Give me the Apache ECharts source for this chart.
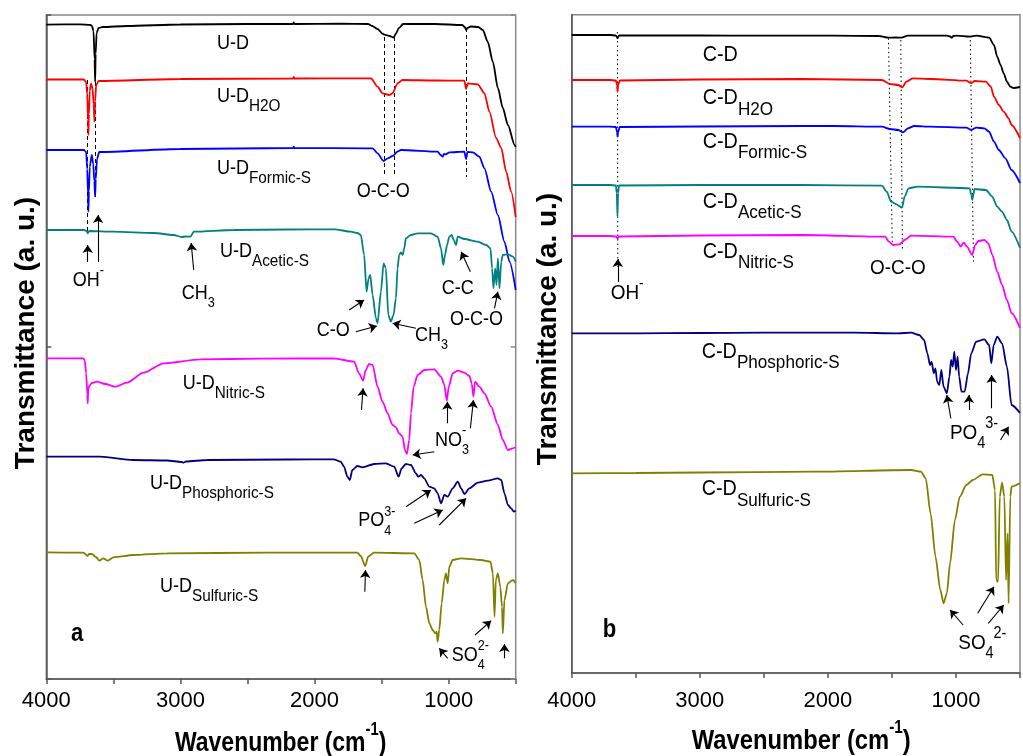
<!DOCTYPE html>
<html><head><meta charset="utf-8">
<script src="https://cdn.jsdelivr.net/npm/echarts@6/dist/echarts.min.js"></script>
<style>html,body{margin:0;padding:0;background:#fff}#c{width:1023px;height:756px}</style>
</head><body><div id="c"></div>
<script>
// ---- Panel a: U-D spectra, [wavenumber cm-1, transmittance a.u. (stacked offset)] ----
const udPlain = [[4000,654.3],[3750,654.7],[3670,654],[3660,653],[3648,648],[3640,620],[3636,597],[3632,625],[3625,646],[3610,651],[3580,652],[3400,653],[3000,654.5],[2500,655],[2160,655],[2155,656.5],[2150,655],[1800,655.3],[1600,655],[1570,653],[1530,650],[1490,645],[1470,644],[1440,643],[1410,641.5],[1395,645],[1370,651],[1340,655],[1100,655],[900,654],[880,652],[870,649],[860,651],[835,652.5],[780,652],[745,649],[708,637],[670,617],[633,591],[596,571],[558,554],[508,534],[500,532]];
const udH2O = [[4000,599.5],[3720,599.5],[3703,597],[3695,585],[3689,560],[3686,544],[3682,565],[3676,588],[3666,595.7],[3655,590],[3647,575],[3641,557.3],[3636,578],[3628,594],[3610,598],[3000,600],[2160,600.5],[2155,602],[2150,600.5],[1600,600.7],[1578,600.5],[1530,592.3],[1493,585.7],[1443,584],[1418,585.7],[1381,595.7],[1343,599],[1100,598.5],[883,598.3],[870,590],[857,595.7],[783,594.7],[733,585.7],[696,567.3],[646,541],[608,531],[571,507.3],[534,487.3],[500,462]];
const udFormic = [[4000,529],[3720,529],[3703,527],[3695,510],[3689,485],[3686,467.3],[3682,488],[3676,512],[3661,524],[3650,515],[3642,498],[3636,482.3],[3631,500],[3622,520],[3605,527],[3000,530],[2160,531],[2155,532.3],[2150,531],[1600,530.7],[1567,530.7],[1530,525.7],[1485,518],[1455,520.7],[1418,523],[1381,527.3],[1356,529],[1082,527.3],[1060,524],[1044,522.3],[1035,525],[1020,524.7],[995,526.7],[883,527.3],[870,520],[860,527],[820,526.7],[771,522.3],[733,510.7],[683,487.3],[633,464],[584,437.3],[546,417.3],[500,389]];
const udAcetic = [[4000,449],[3720,449],[3700,448],[3691,445.7],[3680,448],[3500,447.3],[3200,446],[3050,444],[2990,442],[2960,442.5],[2925,442.3],[2900,447.3],[2600,449],[2200,449.5],[1850,449.7],[1730,447.3],[1680,446],[1655,444],[1630,424],[1612,387.3],[1597,400.7],[1585,404],[1567,384],[1542,360.7],[1530,355.7],[1505,387.3],[1485,415.7],[1468,410.7],[1450,364],[1431,357.3],[1411,364],[1393,380.7],[1381,410.7],[1369,424],[1356,426.7],[1343,424],[1331,430.7],[1319,440.7],[1281,444],[1231,445.7],[1132,445.7],[1082,442.3],[1057,430.7],[1040,414],[1027,424],[1012,434],[995,442.3],[977,444],[962,439],[945,434],[932,442.3],[883,440],[783,437.3],[720,434],[688,430.7],[676,410.7],[666,390.7],[653,410.7],[643,394],[633,420.7],[621,390.7],[608,417.3],[596,424],[558,424.7],[521,422.3],[500,417.3]];
const udNitric = [[4000,320.7],[3723,320.7],[3712,318],[3703,305.7],[3694,285],[3691,275.7],[3687,290],[3680,293],[3660,296],[3623,297.3],[3560,295],[3486,292.3],[3399,296.3],[3275,306.3],[3125,315.7],[2851,319.7],[2400,320.3],[1857,320.7],[1705,317.3],[1668,305.7],[1638,298.3],[1618,309],[1593,315],[1567,314],[1530,292.3],[1493,277.3],[1455,265.7],[1418,254],[1393,251.7],[1369,245.7],[1343,242.3],[1326,229],[1311,225],[1294,239],[1281,265.7],[1261,292.3],[1231,304],[1182,309],[1107,309.7],[1057,302.3],[1032,294],[1014,278.3],[999,292.3],[970,305.7],[932,308.3],[883,306.3],[845,303],[828,295.7],[815,282.3],[803,297.3],[771,292.3],[733,285.7],[683,272.3],[633,254],[596,239],[558,229],[521,230.7],[500,231.7]];
const udPhosphoric = [[4000,222.3],[3600,222.3],[3350,219],[3100,218.5],[2990,217],[2976,216.3],[2960,217.5],[2800,219],[2200,219.5],[1857,219.7],[1805,217.3],[1780,212.3],[1755,202.3],[1737,199],[1718,209],[1680,213],[1643,211.7],[1555,215],[1468,215.7],[1406,212.3],[1373,202.3],[1351,210.7],[1319,215],[1281,214],[1244,205.7],[1226,202.3],[1206,204],[1182,200.7],[1144,192.3],[1107,190.7],[1082,185.7],[1057,175.7],[1032,184],[1007,182.3],[970,190.7],[932,197.3],[907,190.7],[883,185],[845,190.7],[783,196.3],[708,198.3],[633,200.7],[608,199],[584,185.7],[558,174],[534,170.7],[514,167.3],[500,168.3]];
const udSulfuric = [[4000,126.7],[3723,126.3],[3705,124.5],[3693,123],[3680,125],[3661,125],[3630,122],[3604,118.3],[3574,120.7],[3544,118.3],[3499,121.7],[3350,124],[3100,125.7],[2352,126.3],[1680,126.3],[1655,123],[1622,113],[1600,122.3],[1555,126.3],[1256,125.7],[1219,119],[1194,99],[1169,72.3],[1144,55.7],[1119,49],[1101,45.7],[1089,47.3],[1082,37.3],[1070,49],[1052,75.7],[1032,99],[1020,105.7],[1007,95.7],[995,112.3],[970,119],[907,120.7],[758,119],[688,117.3],[670,105.7],[658,62.3],[648,99],[633,105.7],[615,92.3],[602,72.3],[596,45.7],[584,79],[558,95.7],[521,99],[500,95.7]];

// ---- Panel b: C-D spectra ----
const cdPlain = [[4000,638],[3700,638],[3655,637.5],[3642,634.7],[3630,637.5],[3000,637.5],[2500,637.3],[1958,637.3],[1600,637],[1527,635.3],[1470,635.5],[1426,635.3],[1375,637.3],[1071,637.3],[1045,636.5],[1033,635.3],[1020,637],[995,637.3],[893,636.3],[842,637.3],[741,635.3],[703,628],[678,616.3],[652,608],[627,599.7],[602,591.3],[576,586.3],[550,585],[500,586]];
const cdH2O = [[4000,593],[3700,593],[3655,592.5],[3646,588],[3642,581.3],[3637,588],[3625,592.5],[3000,593.5],[2200,594],[1578,593],[1515,589],[1451,588],[1418,585.7],[1388,591.3],[1337,594.7],[1198,594],[919,592.3],[881,589.7],[855,592],[766,591.3],[728,586.3],[703,576.3],[665,568],[627,561.3],[589,554.7],[566,548],[500,535]];
const cdFormic = [[4000,546.3],[3700,546.3],[3655,546],[3646,541],[3642,536.3],[3637,541],[3625,546],[3000,546.5],[2200,547],[1958,547],[1578,546.3],[1515,544],[1451,543],[1413,540.7],[1375,544.7],[1325,547],[1198,546.3],[919,545.3],[881,543],[842,545.3],[779,544.7],[741,541.3],[703,531.3],[665,523],[614,514.7],[566,503],[500,490]];
const cdAcetic = [[4000,488],[3700,488],[3655,487.5],[3648,480],[3643,456.3],[3638,480],[3630,487.5],[3000,488],[2200,488],[1578,487.3],[1540,481.3],[1507,471.3],[1464,468.7],[1421,465.3],[1401,476.3],[1370,484.7],[1299,486.3],[893,484.7],[880,478],[873,473],[865,478],[855,484],[766,483],[716,476.3],[678,466.3],[640,461.3],[602,453],[566,441.3],[500,425]];
const cdNitric = [[4000,437],[3700,437],[3655,436.5],[3642,434.7],[3630,436.5],[3000,437.5],[2200,438],[1553,436.3],[1523,431.3],[1489,428],[1439,428.7],[1401,433],[1350,437.3],[1020,436.3],[990,431.3],[964,426.3],[939,430.3],[914,426.3],[873,418],[850,428],[825,432],[779,433],[747,429.7],[716,418],[678,401.3],[640,388],[602,373],[566,360],[500,345]];
const cdPhosphoric = [[4000,339.7],[3500,339.7],[3000,340],[2500,340.3],[1800,340.3],[1451,339.7],[1350,340.3],[1287,338],[1249,333],[1223,319.7],[1203,308],[1190,311.3],[1173,299.7],[1160,304.7],[1147,291.3],[1130,288],[1114,303],[1097,286.3],[1071,279.7],[1051,296.3],[1038,313],[1025,306.3],[1013,321.3],[1000,303],[987,316.3],[975,296.3],[957,281.3],[932,281.3],[906,299.7],[881,319.7],[842,331.3],[779,333.7],[741,328],[724,309.7],[705,328],[678,336.3],[640,329.7],[602,306.3],[566,268],[500,260]];
const cdSulfuric = [[4000,199.7],[3500,200],[3000,200.5],[2110,201.3],[1350,203],[1274,201.3],[1236,194.7],[1198,159.7],[1160,116.3],[1122,83],[1097,69.7],[1071,79.7],[1046,109.7],[1008,153],[970,176.3],[919,188],[868,193],[792,198.7],[716,198],[695,183],[686,93],[671,91.3],[658,176.3],[640,190.3],[622,176.3],[609,93],[597,139.7],[589,69.7],[576,176.3],[566,186.3],[500,190]];

// guide lines [w1, v1, w2, v2]
const guidesA = [[1481,642,1481,502],[1406,642,1406,504],[865,651,865,502],[3691,599,3691,447],[3636,597,3636,482]];
const guidesB = [[3643,641,3640,406],[1527,634.7,1497,428],[1431,633,1418,423],[888,633,863,411.3]];
// arrows [tail w, tail v, head w, head v]
const arrowsA = [[3691,417,3691,434],[3614,417,3614,464],[2901,409,2920,436],[1742,369,1630,379],[1692,347.3,1535,353],[1244,350.7,1418,355.7],[838,407.3,907,427.3],[658,370.7,633,387.3],[1650,269,1638,290.7],[1107,227.3,1268,224],[1010,255.7,1010,277.3],[838,250.7,815,279],[1318,172.3,1132,189],[1256,155.7,1044,169],[1070,154,870,180.7],[1625,87.3,1620,109],[1007,20.7,1070,30.7],[803,44,683,58.3],[584,20.7,584,35]];
const arrowsB = [[3640,391,3640,414],[1040,254.7,1071,278],[899,263,899,278],[721,264.7,721,298],[652,233,589,246.3],[944,48,1046,63],[830,59.7,703,86.3],[747,49.7,627,68]];

const xTicks = [1000, 2000, 3000, 4000];

const FONT = "Arial, 'Liberation Sans', sans-serif";
const cv = document.createElement('canvas').getContext('2d');
function measure(t, f) { cv.font = f; return cv.measureText(t).width; }
// label builder: parts [[text, kind]] kind: n | sub | sup | supS (sup stacked above preceding sub)
function lab(x, y, parts, size, subSize, sx, weight) {
  sx = sx || 0.9;
  const pre = weight ? weight + ' ' : '';
  const els = []; let cx = x, subX = x;
  for (const [t, k] of parts) {
    const fs = k === 'n' ? size : subSize;
    const dy = k === 'sub' ? size * 0.5 : (k === 'sup' || k === 'supS') ? -size * 0.45 : 0;
    const px = k === 'supS' ? subX : cx;
    const f = pre + fs + 'px ' + FONT;
    els.push({ type: 'text', x: px, y: y + dy, scaleX: sx, silent: true,
      style: { text: t, font: f, fill: '#000', verticalAlign: 'middle', align: 'left' } });
    const w = measure(t, f) * sx;
    if (k === 'sub') subX = px;
    cx = k === 'supS' ? Math.max(cx, px + w) : px + w;
  }
  return els;
}

const graphics = [].concat(
  lab(217, 43.3, [['U-D','n']], 20, 17),
  lab(217, 96.7, [['U-D','n'],['H2O','sub']], 20, 17),
  lab(217, 168, [['U-D','n'],['Formic-S','sub']], 20, 17),
  lab(220, 251.7, [['U-D','n'],['Acetic-S','sub']], 20, 17),
  lab(182.7, 383.3, [['U-D','n'],['Nitric-S','sub']], 20, 17),
  lab(150, 483, [['U-D','n'],['Phosphoric-S','sub']], 20, 17),
  lab(160, 586, [['U-D','n'],['Sulfuric-S','sub']], 20, 17),
  lab(72.7, 280, [['OH','n'],['-','sup']], 20, 14),
  lab(181.7, 293, [['CH','n'],['3','sub']], 20, 14),
  lab(316.7, 330, [['C-O','n']], 20, 14),
  lab(415, 335, [['CH','n'],['3','sub']], 20, 14),
  lab(441.7, 288.3, [['C-C','n']], 20, 14),
  lab(450, 319.3, [['O-C-O','n']], 20, 14),
  lab(356.7, 191.7, [['O-C-O','n']], 20, 14),
  lab(435, 440, [['NO','n'],['3','sub'],['-','supS']], 20, 14),
  lab(358.3, 520.7, [['PO','n'],['4','sub'],['3-','supS']], 20, 14),
  lab(451.7, 655, [['SO','n'],['4','sub'],['2-','supS']], 20, 14),
  lab(702.7, 55, [['C-D','n']], 22, 19),
  lab(702.7, 98.3, [['C-D','n'],['H2O','sub']], 22, 19),
  lab(702.7, 141.7, [['C-D','n'],['Formic-S','sub']], 22, 19),
  lab(702.7, 201.7, [['C-D','n'],['Acetic-S','sub']], 22, 19),
  lab(702.7, 251.7, [['C-D','n'],['Nitric-S','sub']], 22, 19),
  lab(701.7, 351.7, [['C-D','n'],['Phosphoric-S','sub']], 22, 19),
  lab(701.7, 489.3, [['C-D','n'],['Sulfuric-S','sub']], 22, 19),
  lab(870, 268.3, [['O-C-O','n']], 21, 16),
  lab(610.7, 293.3, [['OH','n'],['-','sup']], 21, 15),
  lab(950, 433.3, [['PO','n'],['4','sub'],['3-','sup']], 21, 16),
  lab(958.3, 643.3, [['SO','n'],['4','sub'],['2-','sup']], 21, 16),
  [
    { type:'text', x:71, y:634, scaleX:0.85, silent:true, style:{ text:'a', font:'bold 26px '+FONT, fill:'#000', verticalAlign:'middle' } },
    { type:'text', x:602.7, y:630, scaleX:0.85, silent:true, style:{ text:'b', font:'bold 26px '+FONT, fill:'#000', verticalAlign:'middle' } },
    { type:'text', x:26, y:333, rotation:Math.PI/2, silent:true, style:{ text:'Transmittance (a. u.)', font:'bold 28px '+FONT, fill:'#000', align:'center', verticalAlign:'middle' } },
    { type:'text', x:548.5, y:329, rotation:Math.PI/2, silent:true, style:{ text:'Transmittance (a. u.)', font:'bold 28px '+FONT, fill:'#000', align:'center', verticalAlign:'middle' } }
  ],
  lab(175, 743, [['Wavenumber (cm','n'],['-1','sup'],[')','n']], 28, 18, 0.82, 'bold'),
  lab(691.7, 741, [['Wavenumber (cm','n'],['-1','sup'],[')','n']], 28, 18, 0.85, 'bold')
);

function spec(data, color, gi) {
  return { type:'line', xAxisIndex:gi, yAxisIndex:gi === 0 ? 0 : 2, data, showSymbol:false, symbol:'none',
    smooth:0.25, smoothMonotone:'x', lineStyle:{ color, width:1.8 }, silent:true, z:3 };
}
function guideSeries(list, gi, type) {
  return { type:'lines', coordinateSystem:'cartesian2d', xAxisIndex:gi, yAxisIndex:gi === 0 ? 0 : 2, symbol:'none', silent:true,
    lineStyle:{ color:'#000', width:1, type, opacity:1 }, data: list.map(a => ({ coords:[[a[0],a[1]],[a[2],a[3]]] })), z:2 };
}
function arrowSeries(list, gi) {
  return { type:'lines', coordinateSystem:'cartesian2d', xAxisIndex:gi, yAxisIndex:gi === 0 ? 0 : 2, symbol:['none','arrow'], symbolSize:[1,8], silent:true,
    lineStyle:{ color:'#000', width:1.1, opacity:1 }, data: list.map(a => ({ coords:[[a[0],a[1]],[a[2],a[3]]] })), z:4 };
}

const axisCol = '#555';
function xAx(gi) {
  return { gridIndex:gi, type:'value', min:500, max:4000, interval:500, inverse:true,
    axisLine:{ show:true, onZero:false, lineStyle:{ color:axisCol, width:1.5 } },
    axisTick:{ show:true, inside:false, length:5, lineStyle:{ color:axisCol, width:1.5 } },
    axisLabel:{ color:'#000', fontSize:22, fontFamily:FONT, margin:gi === 0 ? 11 : 17,
      formatter: v => xTicks.includes(v) ? String(v) : '' },
    splitLine:{ show:false } };
}

const chart = echarts.init(document.getElementById('c'), null, { renderer:'canvas' });
chart.setOption({
  animation:false,
  backgroundColor:'#fff',
  grid:[
    { left:46.3, top:15, width:469.4, height:664, show:true, borderColor:'#888', borderWidth:1.5, backgroundColor:'transparent' },
    { left:571.7, top:14.7, width:460, height:658.3, show:true, borderColor:'#888', borderWidth:1.5, backgroundColor:'transparent' }
  ],
  xAxis:[ xAx(0), xAx(1) ],
  yAxis:[
    { gridIndex:0, type:'value', min:0, max:664, interval:332, axisLine:{ show:true, lineStyle:{ color:axisCol, width:1.5 } },
      axisTick:{ show:true, inside:true, length:5, lineStyle:{ color:axisCol, width:1.5 } }, axisLabel:{ show:false }, splitLine:{ show:false } },
    { gridIndex:0, type:'value', position:'right', min:0, max:664, interval:332, axisLine:{ show:false },
      axisTick:{ show:true, inside:true, length:5, lineStyle:{ color:'#888', width:1.5 } }, axisLabel:{ show:false }, splitLine:{ show:false } },
    { gridIndex:1, type:'value', min:0, max:658.3, axisLine:{ show:true, lineStyle:{ color:axisCol, width:1.5 } },
      axisTick:{ show:false }, axisLabel:{ show:false }, splitLine:{ show:false } }
  ],
  series:[
    guideSeries(guidesA, 0, [4,3]),
    guideSeries(guidesB, 1, [1.5,3]),
    spec(udPlain, '#000000', 0),
    spec(udH2O, '#ff0000', 0),
    spec(udFormic, '#0000ff', 0),
    spec(udAcetic, '#008080', 0),
    spec(udNitric, '#ff00ff', 0),
    spec(udPhosphoric, '#000080', 0),
    spec(udSulfuric, '#808000', 0),
    spec(cdPlain, '#000000', 1),
    spec(cdH2O, '#ff0000', 1),
    spec(cdFormic, '#0000ff', 1),
    spec(cdAcetic, '#008080', 1),
    spec(cdNitric, '#ff00ff', 1),
    spec(cdPhosphoric, '#000080', 1),
    spec(cdSulfuric, '#808000', 1),
    arrowSeries(arrowsA, 0),
    arrowSeries(arrowsB, 1)
  ],
  graphic: graphics
});
</script>
</body></html>
